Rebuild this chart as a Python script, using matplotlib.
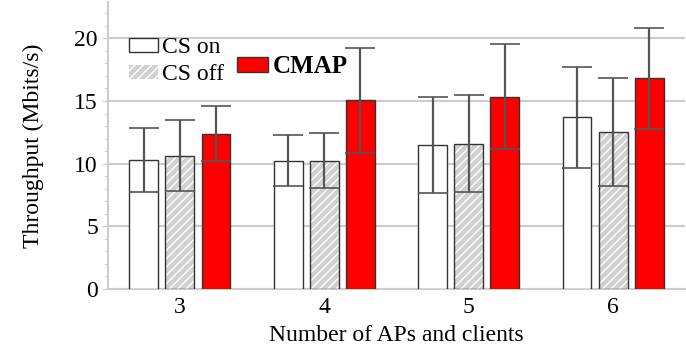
import numpy as np
import matplotlib.pyplot as plt
from matplotlib.patches import Patch

plt.rcParams['font.family'] = ['Liberation Serif', 'DejaVu Serif']

groups = [3, 4, 5, 6]
cs_on = [10.3, 10.25, 11.5, 13.7]
cs_on_err = [2.55, 2.0, 3.85, 4.05]
cs_off = [10.65, 10.25, 11.6, 12.55]
cs_off_err = [2.85, 2.2, 3.9, 4.3]
cmap = [12.4, 15.05, 15.35, 16.8]
cmap_err = [2.2, 4.2, 4.2, 4.0]

GRID = '#cccccc'
ERR = '#555555'
EDGE = '#333333'
FS = 17

fig = plt.figure(figsize=(6.86, 3.62), dpi=100)
ax = fig.add_axes([0.157, 0.2017, 0.842, 0.7928])

x = np.array(groups, dtype=float)
w = 0.2
step = 0.25
err_kw = dict(ecolor=ERR, elinewidth=1.6, capsize=10.5, capthick=1.2)

ax.bar(x - step, cs_on, w, color='white', edgecolor=EDGE, linewidth=1,
       yerr=cs_on_err, error_kw=err_kw, zorder=3)
# hatched bar: fill + white hatch first, then outline on top
ax.bar(x, cs_off, w, color='#d0d0d0', edgecolor='white', linewidth=0,
       hatch='////', zorder=3)
ax.bar(x, cs_off, w, color='none', edgecolor=EDGE, linewidth=1,
       yerr=cs_off_err, error_kw=err_kw, zorder=4)
ax.bar(x + step, cmap, w, color='#ff0000', edgecolor=EDGE, linewidth=1,
       yerr=cmap_err, error_kw=err_kw, zorder=3)

ax.set_xlim(2.5, 6.5)
ax.set_ylim(0, 22.9)
ax.set_xticks(groups)
ax.set_yticks([0, 5, 10, 15, 20])
ax.set_yticks(np.arange(0, 23, 1), minor=True)
ax.tick_params(axis='x', length=0, labelsize=FS, pad=6)
ax.tick_params(axis='y', which='major', length=4, color=GRID, labelsize=FS, pad=3)
ax.tick_params(axis='y', which='minor', length=3, color=GRID)
ax.yaxis.grid(True, color=GRID, linewidth=1.5, zorder=0)
ax.set_axisbelow(True)

for s in ['top', 'right']:
    ax.spines[s].set_visible(False)
for s in ['left', 'bottom']:
    ax.spines[s].set_color(GRID)
    ax.spines[s].set_linewidth(1.5)

ax.set_xlabel('Number of APs and clients', fontsize=FS, labelpad=5)
ax.set_ylabel('Throughput (Mbits/s)', fontsize=FS, labelpad=22)

h_on = Patch(facecolor='white', edgecolor=EDGE, linewidth=1)
h_off = Patch(facecolor='#d0d0d0', edgecolor='white', hatch='////', linewidth=0)
h_cmap = Patch(facecolor='#ff0000', edgecolor=EDGE, linewidth=1)

leg_kw = dict(frameon=False, handlelength=1.23, handleheight=0.55,
              handletextpad=0.18, borderpad=0, borderaxespad=0, labelspacing=0.27,
              loc='upper left', bbox_transform=fig.transFigure)
leg1 = ax.legend([h_on, h_off], ['CS on', 'CS off'], prop={'size': FS},
                 bbox_to_anchor=(129 / 686, 1 - 37 / 362), **leg_kw)
ax.add_artist(leg1)
leg2 = ax.legend([h_cmap], ['CMAP'], prop={'weight': 'bold', 'size': FS + 1},
                 bbox_to_anchor=(237 / 686, 1 - 55 / 362), **leg_kw)

fig.savefig('out.png', dpi=100)
